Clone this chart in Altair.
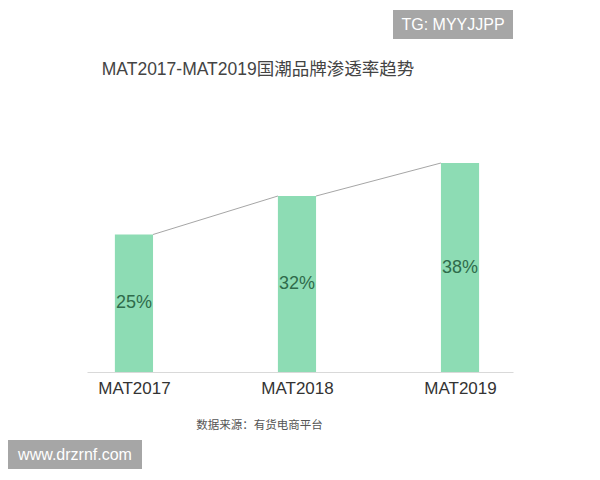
import altair as alt
import pandas as pd

categories = ["MAT2017", "MAT2018", "MAT2019"]
values = [25, 32, 38]
value_labels = ["25%", "32%", "38%"]

CJK = "Noto Sans CJK SC"
LATIN = "Liberation Sans, Noto Sans CJK SC"
HALF = 0.117  # half bar width in index units

bars = pd.DataFrame(
    {
        "idx": list(range(len(categories))),
        "category": categories,
        "value": values,
        "label": value_labels,
    }
)
bars["x0"] = bars["idx"] - HALF
bars["x1"] = bars["idx"] + HALF
bars["base"] = 0
bars["mid"] = bars["value"] / 2

links = pd.DataFrame(
    {
        "x0": [i + HALF for i in range(len(values) - 1)],
        "x1": [i + 1 - HALF for i in range(len(values) - 1)],
        "y0": values[:-1],
        "y1": values[1:],
    }
)

x_scale = alt.Scale(domain=[-0.288, 2.325], nice=False, zero=False)
y_scale = alt.Scale(domain=[0, 40], nice=False)

label_expr = (
    "datum.value == 0 ? 'MAT2017' : datum.value == 1 ? 'MAT2018' : "
    "datum.value == 2 ? 'MAT2019' : ''"
)

x_axis = alt.Axis(
    values=[0, 1, 2],
    labelExpr=label_expr,
    grid=False,
    ticks=False,
    domainColor="#d9d9d9",
    labelFont=LATIN,
    labelFontSize=17,
    labelColor="#333333",
    labelPadding=8,
    title="数据来源：有货电商平台",
    titleFont=CJK,
    titleFontSize=11.5,
    titleFontWeight="normal",
    titleColor="#555555",
    titleX=172,
    titleY=53,
    titleBaseline="middle",
    titleAlign="center",
)

link_layer = (
    alt.Chart(links)
    .mark_rule(color="#a6a6a6", strokeWidth=1)
    .encode(
        alt.X("x0:Q", scale=x_scale, axis=x_axis),
        alt.X2("x1"),
        alt.Y("y0:Q", scale=y_scale, axis=None),
        alt.Y2("y1"),
    )
)

bar_layer = (
    alt.Chart(bars)
    .mark_bar(color="#8ddcb4")
    .encode(
        alt.X("x0:Q", scale=x_scale, axis=x_axis),
        alt.X2("x1"),
        alt.Y("value:Q", scale=y_scale, axis=None),
        alt.Y2("base"),
    )
)

text_layer = (
    alt.Chart(bars)
    .mark_text(font=LATIN, fontSize=18, color="#2f6b4b", baseline="middle")
    .encode(
        alt.X("idx:Q", scale=x_scale, axis=x_axis),
        alt.Y("mid:Q", scale=y_scale, axis=None),
        alt.Text("label:N"),
    )
)


def box(text, x0, x1, y0, y1):
    df = pd.DataFrame({"t": [text]})
    rect = (
        alt.Chart(df)
        .mark_rect(color="#a6a6a6")
        .encode(x=alt.value(x0), x2=alt.value(x1), y=alt.value(y0), y2=alt.value(y1))
    )
    label = (
        alt.Chart(df)
        .mark_text(font=LATIN, fontSize=16, color="white", baseline="middle")
        .encode(x=alt.value((x0 + x1) / 2), y=alt.value((y0 + y1) / 2), text="t:N")
    )
    return [rect, label]


chart = (
    alt.layer(
        link_layer,
        bar_layer,
        text_layer,
        *box("TG: MYYJJPP", 306, 426, -142, -113),
        *box("www.drzrnf.com", -79, 55, 288, 317),
    )
    .properties(
        width=426,
        height=220,
        title=alt.TitleParams(
            "MAT2017-MAT2019国潮品牌渗透率趋势",
            font=LATIN,
            fontSize=17.5,
            fontWeight="normal",
            color="#444444",
            anchor="middle",
            frame="group",
            dx=-42,
            offset=-68,
        ),
        autosize=alt.AutoSizeParams(type="none"),
        padding={"left": 79, "top": 144, "right": 79, "bottom": 100},
    )
    .configure_view(stroke=None)
)

chart.save("out.html", embed_options={"renderer": "svg", "actions": False})
